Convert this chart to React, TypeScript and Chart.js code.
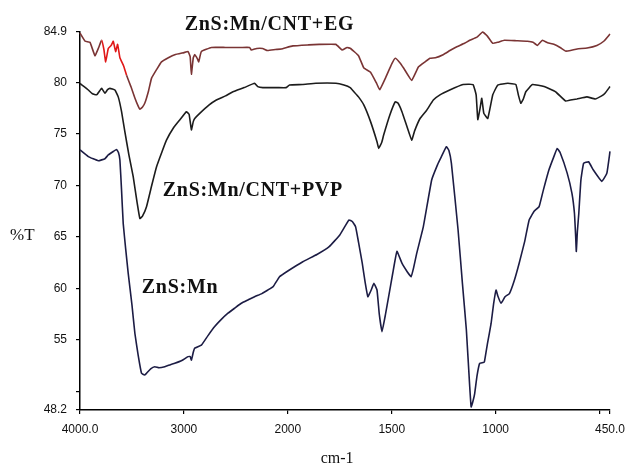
import React, { useEffect, useRef } from 'react';
import { Chart, registerables } from 'chart.js';

Chart.register(...registerables);

// ---- Data (wavenumber in cm-1, %T) ----
const EG_WN = [4000, 3950, 3904, 3856, 3820, 3792, 3770, 3753, 3728, 3700, 3680, 3657, 3638, 3616, 3580, 3552, 3510, 3472, 3440, 3424, 3400, 3376, 3340, 3312, 3260, 3216, 3150, 3088, 3000, 2960, 2940, 2928, 2910, 2896, 2870, 2858, 2832, 2736, 2600, 2450, 2368, 2352, 2300, 2243, 2195, 2120, 2064, 1976, 1900, 1849, 1769, 1739, 1715, 1698, 1660, 1634, 1602, 1575, 1558, 1531, 1500, 1483, 1460, 1443, 1404, 1372, 1340, 1316, 1290, 1253, 1220, 1189, 1150, 1125, 1090, 1063, 1040, 1014, 990, 958, 900, 847, 820, 799, 775, 750, 720, 690, 664, 640, 608, 560, 513, 480, 450];
const EG_T = [84.8, 84.0, 83.9, 82.6, 83.4, 84.1, 83.2, 82.0, 83.3, 83.6, 84.0, 83.0, 83.7, 82.4, 81.6, 80.7, 79.6, 78.5, 77.7, 77.4, 77.6, 78.0, 79.2, 80.4, 81.3, 82.0, 82.4, 82.7, 82.9, 83.0, 82.5, 80.8, 82.4, 82.7, 82.3, 82.0, 83.0, 83.4, 83.4, 83.4, 83.4, 83.15, 83.3, 83.3, 83.1, 83.2, 83.25, 83.55, 83.65, 83.7, 83.7, 83.15, 83.4, 83.3, 82.6, 81.4, 81.0, 80.0, 79.3, 80.4, 81.8, 82.35, 81.9, 81.4, 80.2, 81.5, 82.0, 82.35, 82.4, 82.7, 83.1, 83.45, 83.8, 84.1, 84.4, 84.9, 84.5, 83.8, 83.9, 84.1, 84.05, 84.0, 83.9, 83.6, 84.1, 83.85, 83.7, 83.4, 83.05, 83.1, 83.25, 83.35, 83.6, 84.0, 84.7];

const PVP_WN = [4000, 3960, 3920, 3880, 3840, 3810, 3792, 3760, 3735, 3712, 3664, 3632, 3600, 3568, 3530, 3488, 3450, 3424, 3400, 3360, 3310, 3264, 3210, 3168, 3100, 3040, 2976, 2950, 2928, 2910, 2896, 2848, 2760, 2688, 2600, 2528, 2420, 2320, 2290, 2240, 2100, 2016, 1992, 1930, 1865, 1769, 1730, 1700, 1682, 1660, 1634, 1602, 1571, 1563, 1548, 1539, 1510, 1483, 1470, 1451, 1425, 1404, 1390, 1364, 1332, 1300, 1268, 1221, 1157, 1109, 1094, 1086, 1075, 1067, 1057, 1038, 1014, 990, 942, 903, 891, 879, 867, 855, 823, 767, 712, 664, 640, 609, 561, 521, 490, 474, 450];
const PVP_T = [79.9, 79.6, 79.27, 78.9, 78.8, 79.2, 79.43, 78.95, 79.3, 79.43, 79.27, 78.6, 77.16, 75.2, 73.0, 70.85, 68.3, 66.8, 67.0, 67.94, 70.0, 71.8, 73.3, 74.4, 75.6, 76.36, 77.16, 76.9, 75.4, 76.2, 76.5, 77.0, 77.8, 78.3, 78.7, 79.1, 79.5, 79.92, 79.6, 79.5, 79.5, 79.5, 79.75, 79.8, 79.92, 79.92, 79.75, 79.5, 79.1, 78.6, 77.8, 76.2, 74.25, 73.6, 74.2, 74.9, 76.8, 78.13, 78.0, 77.16, 75.6, 74.4, 75.3, 76.5, 77.3, 78.3, 78.8, 79.27, 79.8, 79.8, 78.8, 76.4, 77.5, 78.46, 77.0, 76.5, 78.8, 79.75, 79.92, 79.8, 78.8, 77.98, 78.4, 79.1, 79.8, 79.6, 79.1, 78.2, 78.3, 78.4, 78.6, 78.4, 78.7, 78.95, 79.6];

const ZNS_WN = [4000, 3920, 3824, 3760, 3728, 3680, 3648, 3630, 3616, 3600, 3584, 3560, 3536, 3500, 3472, 3440, 3408, 3380, 3360, 3320, 3280, 3240, 3184, 3130, 3088, 3020, 2960, 2940, 2928, 2910, 2896, 2832, 2770, 2704, 2640, 2576, 2510, 2448, 2380, 2320, 2250, 2192, 2140, 2080, 2000, 1928, 1860, 1801, 1750, 1706, 1690, 1674, 1660, 1642, 1628, 1615, 1600, 1586, 1571, 1560, 1547, 1530, 1515, 1495, 1475, 1451, 1425, 1407, 1395, 1380, 1348, 1308, 1280, 1261, 1237, 1225, 1213, 1181, 1160, 1141, 1125, 1118, 1110, 1101, 1090, 1077, 1060, 1054, 1040, 1022, 1010, 998, 990, 974, 955, 934, 910, 887, 860, 839, 815, 791, 770, 744, 720, 704, 690, 656, 633, 621, 615, 612, 607, 600, 590, 577, 553, 530, 489, 465, 450];
const ZNS_T = [73.45, 72.8, 72.4, 72.6, 72.96, 73.3, 73.5, 73.2, 72.47, 69.5, 66.3, 63.8, 61.47, 58.4, 55.65, 53.5, 51.76, 51.6, 51.76, 52.2, 52.4, 52.3, 52.4, 52.6, 52.73, 53.0, 53.38, 53.4, 53.05, 53.8, 54.2, 54.5, 55.4, 56.3, 57.0, 57.6, 58.1, 58.56, 58.9, 59.2, 59.5, 59.85, 60.2, 61.14, 61.7, 62.6, 63.3, 64.06, 65.2, 66.65, 66.5, 66.0, 64.5, 62.45, 60.6, 59.2, 59.8, 60.5, 59.85, 57.5, 55.8, 57.5, 59.2, 61.5, 63.6, 62.45, 61.6, 61.14, 62.0, 63.4, 66.0, 70.53, 72.0, 72.8, 73.76, 73.4, 72.15, 65.7, 60.5, 55.97, 50.5, 48.5, 49.0, 49.8, 51.5, 52.73, 52.8, 52.9, 54.6, 56.6, 58.5, 59.85, 59.3, 58.56, 59.2, 59.5, 60.8, 62.45, 64.6, 66.65, 67.5, 67.94, 69.6, 71.5, 72.8, 73.6, 73.2, 71.2, 69.24, 67.3, 65.0, 63.6, 65.5, 67.3, 70.5, 72.15, 72.3, 71.5, 70.4, 71.2, 73.3];

// Axis ticks
const X_TICK_WN = [4000, 3000, 2000, 1500, 1000, 500, 450];
const X_TICK_LABELS = ['4000.0', '3000', '2000', '1500', '1000', '', '450.0'];
const Y_TICKS = [48.2, 50, 55, 60, 65, 70, 75, 80, 84.9];
const Y_TICK_LABELS = ['48.2', '', '55', '60', '65', '70', '75', '80', '84.9'];

// Curve labels: [text, wavenumber of left edge, %T of baseline]
const CURVE_LABELS: [string, number, number][] = [
  ['ZnS:Mn/CNT+EG', 2992, 85.1],
  ['ZnS:Mn/CNT+PVP', 3203, 68.98],
  ['ZnS:Mn', 3405, 59.56],
];

// FTIR axis: 4000-2000 region compressed by half
const toPos = (wn: number) => (wn > 2000 ? 2000 + (wn - 2000) / 2 : wn);

const pts = (wn: number[], t: number[]) => wn.map((w, i) => ({ x: toPos(w), y: t[i] }));

const near = (a: number, b: number) => Math.abs(a - b) < 1e-6;

const labelPlugin = {
  id: 'ftirLabels',
  afterDraw(chart: any) {
    const { ctx, scales } = chart;
    const xs = scales.x;
    const ys = scales.y;
    ctx.save();
    ctx.fillStyle = '#111';
    ctx.textBaseline = 'alphabetic';
    ctx.textAlign = 'left';
    ctx.font = 'bold 20px "Liberation Serif", "Times New Roman", serif';
    try { (ctx as any).letterSpacing = '0.7px'; } catch (e) {}
    CURVE_LABELS.forEach(([txt, wn, t]) => {
      ctx.fillText(txt, xs.getPixelForValue(toPos(wn)), ys.getPixelForValue(t));
    });
    try { (ctx as any).letterSpacing = '0px'; } catch (e) {}
    ctx.font = '17px "Liberation Serif", "Times New Roman", serif';
    ctx.fillText('%T', 10, ys.getPixelForValue(64.7));
    ctx.textAlign = 'center';
    ctx.font = '16px "Liberation Serif", "Times New Roman", serif';
    ctx.fillText('cm-1', xs.getPixelForValue(toPos(1763)), chart.height - 4);
    ctx.restore();
  },
};

export default function App() {
  const ref = useRef<HTMLCanvasElement>(null);
  useEffect(() => {
    const tickFont = { family: '"Liberation Sans", Arial, sans-serif', size: 12 };
    const chart = new Chart(ref.current as HTMLCanvasElement, {
      type: 'line',
      data: {
        datasets: [
          {
            label: 'ZnS:Mn/CNT+EG',
            data: pts(EG_WN, EG_T),
            borderColor: '#7a3434',
            borderWidth: 1.6,
            pointRadius: 0,
            clip: 6,
            segment: {
              borderColor: (c: any) => {
                const x = c.p0.parsed.x;
                return x <= toPos(3800) && x >= toPos(3560) ? '#e01818' : '#7a3434';
              },
            },
          } as any,
          {
            label: 'ZnS:Mn/CNT+PVP',
            data: pts(PVP_WN, PVP_T),
            borderColor: '#1c1c1c',
            borderWidth: 1.6,
            pointRadius: 0,
            clip: 6,
          },
          {
            label: 'ZnS:Mn',
            data: pts(ZNS_WN, ZNS_T),
            borderColor: '#1c1c44',
            borderWidth: 1.6,
            pointRadius: 0,
            clip: 6,
          },
        ],
      },
      options: {
        animation: false,
        responsive: false,
        devicePixelRatio: 1,
        parsing: false as any,
        layout: { padding: { left: 0, right: 20, top: 32, bottom: 0 } },
        elements: { line: { tension: 0.1 } },
        plugins: { legend: { display: false }, tooltip: { enabled: false } },
        scales: {
          x: {
            type: 'linear',
            reverse: true,
            min: toPos(450),
            max: toPos(4000),
            afterBuildTicks: (s: any) => {
              s.ticks = X_TICK_WN.map((w) => ({ value: toPos(w) }));
            },
            afterFit: (s: any) => {
              s.height = 57;
            },
            grid: { drawOnChartArea: false, drawTicks: true, tickLength: 4, color: '#000', lineWidth: 1.2 },
            border: { display: true, color: '#000', width: 1.5 },
            ticks: {
              autoSkip: false,
              maxRotation: 0,
              padding: 8,
              color: '#111',
              font: tickFont,
              callback: (v: any) => {
                const i = X_TICK_WN.findIndex((w) => near(toPos(w), Number(v)));
                return i >= 0 ? X_TICK_LABELS[i] : '';
              },
            },
          },
          y: {
            type: 'linear',
            min: 48.2,
            max: 84.9,
            afterBuildTicks: (s: any) => {
              s.ticks = Y_TICKS.map((v) => ({ value: v }));
            },
            afterFit: (s: any) => {
              s.width = 80;
            },
            grid: { drawOnChartArea: false, drawTicks: true, tickLength: 4, color: '#000', lineWidth: 1.2 },
            border: { display: true, color: '#000', width: 1.5 },
            ticks: {
              autoSkip: false,
              padding: 9,
              color: '#111',
              font: tickFont,
              callback: (v: any) => {
                const i = Y_TICKS.findIndex((t) => near(t, Number(v)));
                return i >= 0 ? Y_TICK_LABELS[i] : '';
              },
            },
          },
        },
      },
      plugins: [labelPlugin],
    } as any);
    return () => chart.destroy();
  }, []);

  return (
    <div style={{ position: 'fixed', left: 0, top: 0, width: 633, height: 467, background: '#fff' }}>
      <canvas ref={ref} width={633} height={467} style={{ display: 'block' }} />
    </div>
  );
}
